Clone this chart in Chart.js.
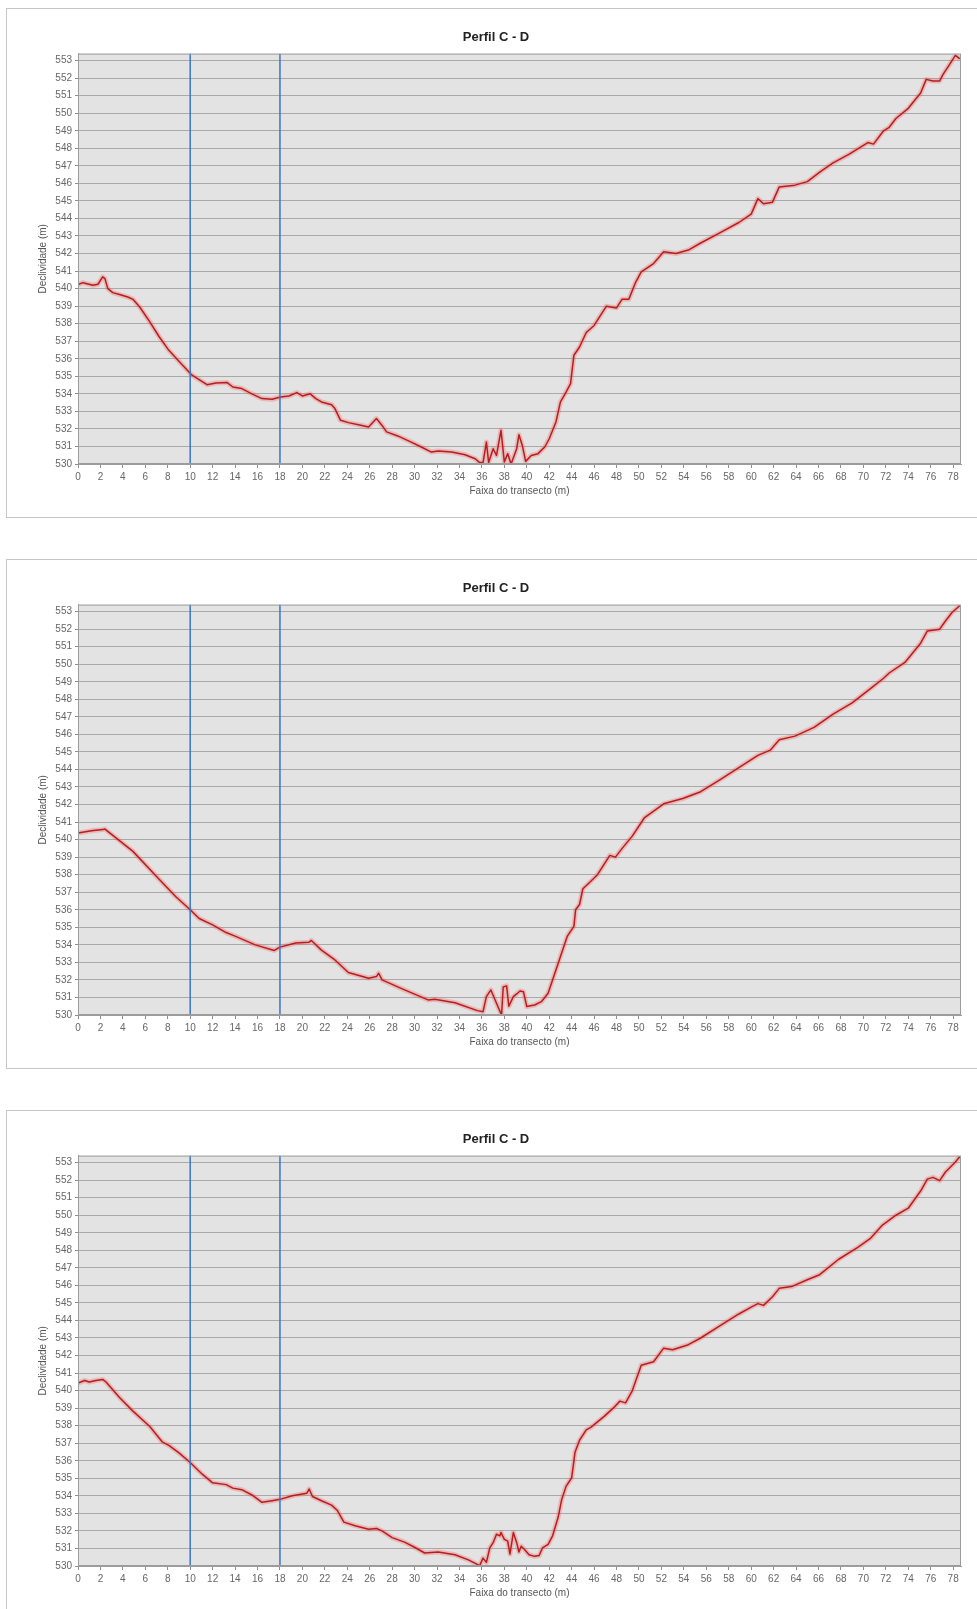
<!DOCTYPE html>
<html>
<head>
<meta charset="utf-8">
<script src="https://cdn.jsdelivr.net/npm/chart.js@4.4.1/dist/chart.umd.min.js"></script>
<style>
  html, body { margin: 0; padding: 0; background: #fff; width: 977px; height: 1609px; overflow: hidden; }
  .painel { position: absolute; left: 6px; width: 990px; height: 508px; border: 1px solid #c6c6c6; background: #fff; }
  .painel canvas { position: absolute; left: 0; top: 0; }
</style>
</head>
<body>
<div class="painel" style="top:8px"><canvas id="perfil1" width="986" height="508"></canvas></div>
<div class="painel" style="top:559px"><canvas id="perfil2" width="986" height="508"></canvas></div>
<div class="painel" style="top:1110px"><canvas id="perfil3" width="986" height="508"></canvas></div>
<script>
// limites dos eixos
const faixaX = [0, 78.7];
const faixaY = [530, 553.4];
// linhas azuis de referência (m)
const marcas = [10, 18];

// Perfil 1 — distância (m) e cota (m)
const dist1 = [
  0, 0.44, 1.33, 1.78, 2.2, 2.4, 2.66, 3.1, 3.7, 4.44,
  4.9, 5.5, 6.4, 7.25, 8.1, 9.2, 10.1, 10.9, 11.5, 12.3,
  13.3, 13.8, 14.6, 15.5, 16.4, 17.3, 18.05, 18.8, 19.5, 20,
  20.7, 21.2, 21.7, 22.6, 22.9, 23.4, 24.1, 25, 25.9, 26.6,
  27.1, 27.5, 28.5, 29.7, 30.6, 31.5, 32.1, 33.3, 34.5, 35.4,
  35.8, 36.1, 36.4, 36.6, 37, 37.3, 37.7, 38, 38.3, 38.6,
  39.1, 39.3, 39.6, 39.9, 40.4, 41, 41.6, 42, 42.6, 43,
  43.5, 43.9, 44.2, 44.7, 45.3, 46, 47.1, 48, 48.5, 49.1,
  49.7, 50.2, 51.3, 52.2, 53.3, 54.4, 55.5, 57.2, 58.9, 60,
  60.6, 61.1, 61.9, 62.5, 63.9, 65, 66.2, 67.3, 68.7, 70.4,
  70.9, 71.8, 72.3, 72.9, 74, 75.1, 75.6, 76.2, 76.8, 77.1,
  77.6, 78.2, 78.6
];
const cota1 = [
  540.23, 540.34, 540.19, 540.25, 540.67, 540.57, 540.0, 539.77, 539.66, 539.52,
  539.39, 538.95, 538.1, 537.24, 536.48, 535.72, 535.1, 534.77, 534.52, 534.62,
  534.64, 534.39, 534.3, 534.0, 533.73, 533.69, 533.82, 533.88, 534.07, 533.88,
  534.0, 533.73, 533.54, 533.38, 533.16, 532.49, 532.36, 532.24, 532.11, 532.59,
  532.2, 531.83, 531.6, 531.25, 530.97, 530.68, 530.74, 530.68, 530.53, 530.3,
  530.08, 530.08, 531.25, 530.08, 530.87, 530.49, 531.92, 530.11, 530.59, 530.0,
  530.87, 531.67, 531.06, 530.15, 530.49, 530.59, 530.97, 531.44, 532.4, 533.54,
  534.1, 534.58, 536.2, 536.67, 537.5, 537.9, 539.0, 538.9, 539.4, 539.4,
  540.36, 540.95, 541.43, 542.1, 542.0, 542.2, 542.6, 543.18, 543.77, 544.25,
  545.13, 544.84, 544.93, 545.8, 545.9, 546.1, 546.68, 547.17, 547.65, 548.33,
  548.24, 549.0, 549.2, 549.7, 550.28, 551.15, 551.93, 551.84, 551.84, 552.22,
  552.7, 553.3, 553.1
];

// Perfil 2
const dist2 = [
  0, 1.2, 2.2, 2.4, 4.9, 7, 8.7, 10, 10.8, 12,
  13.2, 14.05, 15.8, 17.5, 18, 19.4, 20.6, 20.8, 21.7, 22.9,
  24.1, 25.9, 26.6, 26.8, 27.1, 28.8, 31.2, 31.8, 33.6, 35.6,
  36.1, 36.4, 36.8, 37.3, 37.75, 37.9, 38.2, 38.4, 38.8, 39.1,
  39.4, 39.7, 40, 40.7, 41.3, 41.9, 42.8, 43.6, 44.2, 44.35,
  44.7, 45, 45.5, 46.3, 47.4, 47.9, 48.5, 49.4, 50.5, 52.2,
  53.9, 55.5, 57.2, 58.9, 60.6, 61.7, 62.5, 63.9, 65.6, 67.3,
  69, 70.6, 71.8, 72.3, 73.7, 75.1, 75.7, 76.8, 77.3, 77.9,
  78.6
];
const cota2 = [
  540.38, 540.5, 540.57, 540.6, 539.33, 537.9, 536.76, 536.0, 535.5, 535.14,
  534.7, 534.48, 534.0, 533.68, 533.87, 534.1, 534.15, 534.25, 533.7, 533.14,
  532.42, 532.1, 532.19, 532.38, 532.0, 531.52, 530.86, 530.9, 530.7, 530.25,
  530.19, 531.05, 531.43, 530.67, 530.0, 531.6, 531.66, 530.5, 531.05, 531.2,
  531.37, 531.33, 530.48, 530.57, 530.76, 531.24, 532.95, 534.48, 535.05, 536.0,
  536.3, 537.2, 537.5, 538.0, 539.1, 539.0, 539.5, 540.2, 541.26, 542.04,
  542.34, 542.73, 543.4, 544.1, 544.8, 545.1, 545.7, 545.9, 546.4, 547.15,
  547.8, 548.6, 549.2, 549.5, 550.1, 551.2, 551.9, 552.0, 552.45, 552.95,
  553.35
];

// Perfil 3
const dist3 = [
  0, 0.6, 1, 1.6, 2.2, 2.5, 3.7, 4.9, 6.4, 7.5,
  8.1, 9, 10, 11.1, 12, 13.2, 13.8, 14.6, 15.5, 16.4,
  17.3, 18, 19.1, 20, 20.4, 20.6, 20.9, 21.7, 22.6, 23.1,
  23.7, 24.7, 25.9, 26.6, 27.1, 28, 29.1, 30, 30.9, 32.1,
  33.6, 34.8, 35.8, 36.1, 36.4, 36.7, 37, 37.3, 37.6, 37.7,
  38, 38.3, 38.5, 38.8, 39.1, 39.3, 39.5, 39.8, 40.2, 40.7,
  41.1, 41.4, 41.9, 42.3, 42.8, 43.1, 43.5, 44, 44.3, 44.7,
  45.3, 45.7, 46.9, 47.7, 48.3, 48.8, 49.4, 50.2, 51.3, 52.2,
  53, 54.4, 55.5, 57.2, 58.9, 60, 60.6, 61.1, 61.9, 62.5,
  63.6, 65, 66.1, 67.8, 69.5, 70.6, 71.7, 72.9, 74, 75.1,
  75.7, 76.2, 76.8, 77.3, 78.2, 78.6
];
const cota3 = [
  540.43, 540.58, 540.49, 540.58, 540.64, 540.49, 539.61, 538.83, 537.95, 537.08,
  536.88, 536.45, 535.9, 535.22, 534.74, 534.64, 534.44, 534.35, 534.05, 533.63,
  533.72, 533.8, 534.0, 534.11, 534.15, 534.39, 533.96, 533.72, 533.47, 533.18,
  532.5, 532.3, 532.1, 532.14, 532.0, 531.62, 531.36, 531.07, 530.74, 530.8,
  530.64, 530.35, 530.02, 530.45, 530.21, 531.03, 531.33, 531.81, 531.72, 531.91,
  531.52, 531.42, 530.68, 531.91, 531.33, 530.8, 531.13, 530.94, 530.64, 530.55,
  530.6, 531.03, 531.23, 531.72, 532.79, 533.76, 534.54, 535.03, 536.49, 537.17,
  537.76, 537.9, 538.53, 539.0, 539.4, 539.3, 539.99, 541.45, 541.65, 542.42,
  542.33, 542.62, 543.0, 543.69, 544.37, 544.76, 544.96, 544.86, 545.35, 545.83,
  545.93, 546.32, 546.61, 547.49, 548.17, 548.66, 549.44, 550.0, 550.4, 551.38,
  552.06, 552.16, 551.97, 552.45, 553.04, 553.35
];

Chart.defaults.font.family = '"Liberation Sans", Arial, sans-serif';
Chart.defaults.animation = false;

// fundo cinza e moldura da área do gráfico
const fundoPlot = {
  id: 'fundoPlot',
  beforeDraw(chart) {
    const { ctx, chartArea: a } = chart;
    ctx.save();
    ctx.fillStyle = '#e3e3e3';
    ctx.fillRect(a.left, a.top, a.right - a.left, a.bottom - a.top);
    ctx.restore();
  },
  afterDraw(chart) {
    const { ctx, chartArea: a } = chart;
    ctx.save();
    ctx.strokeStyle = '#9c9c9c';
    ctx.lineWidth = 1;
    ctx.strokeRect(a.left + 0.5, a.top + 0.5, a.right - a.left - 1, a.bottom - a.top - 1);
    ctx.restore();
  }
};

function pontos(xs, ys) {
  return xs.map((x, i) => ({ x: x, y: ys[i] }));
}

function criarPerfil(id, xs, ys) {
  const linhasAzuis = marcas.map(m => ({
    data: [{ x: m, y: faixaY[0] }, { x: m, y: faixaY[1] }],
    borderColor: '#3b76c6',
    borderWidth: 1.5,
    pointRadius: 0,
    order: 0
  }));

  new Chart(document.getElementById(id), {
    type: 'line',
    data: {
      datasets: [
        ...linhasAzuis,
        {
          data: pontos(xs, ys),
          borderColor: '#b81c1c',
          borderWidth: 1.5,
          borderJoinStyle: 'round',
          pointRadius: 0,
          tension: 0,
          order: 1
        },
        {
          data: pontos(xs, ys),
          borderColor: 'rgba(240, 95, 95, 0.32)',
          borderWidth: 5,
          borderJoinStyle: 'round',
          pointRadius: 0,
          tension: 0,
          order: 2
        }
      ]
    },
    options: {
      responsive: false,
      layout: { padding: { left: 24, right: 32, top: 0, bottom: 20 } },
      plugins: {
        legend: { display: false },
        tooltip: { enabled: false },
        title: {
          display: true,
          text: 'Perfil C - D',
          color: '#222',
          font: { size: 13, weight: 'bold' },
          padding: { top: 21, bottom: 8 }
        }
      },
      scales: {
        x: {
          type: 'linear',
          min: faixaX[0],
          max: faixaX[1],
          afterFit(scale) { scale.height = 33; },
          ticks: { stepSize: 2, includeBounds: false, color: '#666', font: { size: 10 }, padding: 3, maxRotation: 0, autoSkip: false },
          grid: { drawOnChartArea: false, drawTicks: true, tickLength: 4, tickColor: '#8c8c8c' },
          border: { display: true, color: '#9c9c9c' },
          title: { display: true, text: 'Faixa do transecto (m)', color: '#555', font: { size: 10 }, padding: { top: 0, bottom: 0 } }
        },
        y: {
          type: 'linear',
          min: faixaY[0],
          max: faixaY[1],
          afterFit(scale) { scale.width = 47; },
          ticks: { stepSize: 1, includeBounds: false, color: '#666', font: { size: 10 }, padding: 3, autoSkip: false },
          grid: { color: '#a9a9a9', lineWidth: 1, drawTicks: true, tickLength: 3, tickColor: '#8c8c8c' },
          border: { display: true, color: '#9c9c9c' },
          title: { display: true, text: 'Declividade (m)', color: '#555', font: { size: 10 }, padding: { top: 6, bottom: 0 } }
        }
      }
    },
    plugins: [fundoPlot]
  });
}

criarPerfil('perfil1', dist1, cota1);
criarPerfil('perfil2', dist2, cota2);
criarPerfil('perfil3', dist3, cota3);
</script>
</body>
</html>
